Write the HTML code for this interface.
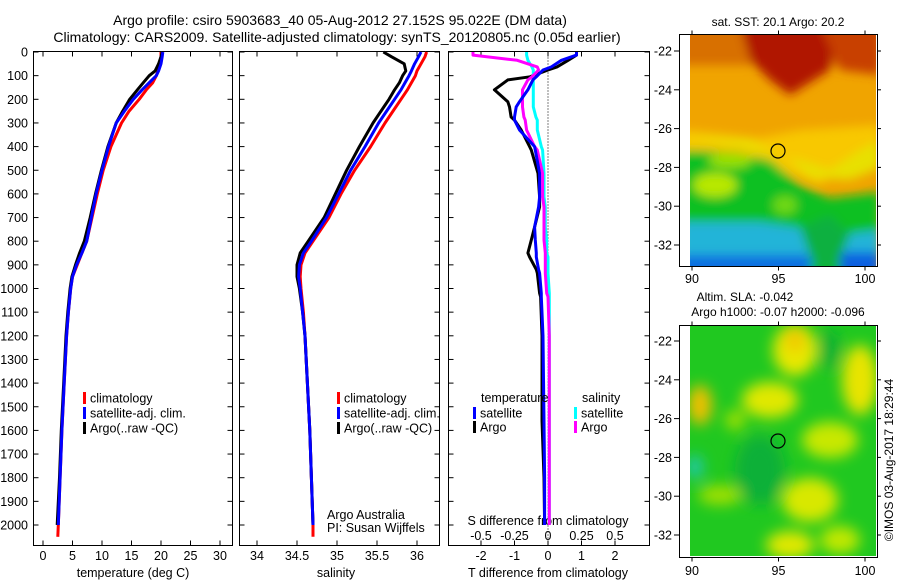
<!DOCTYPE html>
<html><head><meta charset="utf-8">
<style>
html,body{margin:0;padding:0;background:#fff;}
svg{display:block;font-family:"Liberation Sans",sans-serif;}
text{fill:#000;}
</style></head>
<body>
<svg id="fig" width="900" height="580" viewBox="0 0 900 580" xmlns="http://www.w3.org/2000/svg">
<defs>
<filter id="blur4" x="-20%" y="-20%" width="140%" height="140%"><feGaussianBlur stdDeviation="5"/></filter>
<filter id="blur6" x="-20%" y="-20%" width="140%" height="140%"><feGaussianBlur stdDeviation="7"/></filter>
<clipPath id="clipMap1"><rect x="690" y="35" width="186" height="231"/></clipPath>
<clipPath id="clipMap2"><rect x="690" y="326" width="186" height="230"/></clipPath>
</defs>
<text x="340" y="25" font-size="14" text-anchor="middle">Argo profile: csiro 5903683_40 05-Aug-2012 27.152S 95.022E (DM data)</text>
<text x="337" y="42" font-size="14" text-anchor="middle">Climatology: CARS2009. Satellite-adjusted climatology: synTS_20120805.nc (0.05d earlier)</text>

<g id="maps">
<!-- map 1 SST -->
<g clip-path="url(#clipMap1)">
<rect x="690" y="35" width="186" height="231" fill="#f0a400"/>
<g filter="url(#blur4)">
<rect x="680" y="25" width="210" height="40" fill="#d87000"/>
<polygon points="740,25 840,25 830,70 790,95 770,80 750,60" fill="#b01800"/>
<polygon points="820,25 880,25 880,75 840,70" fill="#c84000"/>
<polygon points="680,130 760,138 800,130 880,125 880,150 840,170 820,185 780,170 740,150 680,150" fill="#f8c800"/>
<polygon points="680,135 750,140 790,160 810,178 850,180 880,168 880,140 860,150 830,170 800,160" fill="#e8e000"/>
<polygon points="680,150 730,152 770,160 800,185 830,198 880,192 880,290 680,290" fill="#10c020"/>
<ellipse cx="715" cy="185" rx="22" ry="12" fill="#b8e800"/>
<ellipse cx="730" cy="160" rx="22" ry="8" fill="#9ae000"/>
<ellipse cx="785" cy="205" rx="12" ry="9" fill="#70d818"/>
<polygon points="680,222 760,222 800,228 820,250 800,290 680,290" fill="#20b4d8"/>
<polygon points="840,235 880,230 880,290 840,290" fill="#20b4d8"/>
<rect x="680" y="255" width="130" height="30" fill="#1070e0"/>
<rect x="840" y="252" width="40" height="30" fill="#1060e0"/>
<polygon points="800,228 830,215 850,235 835,270 815,270" fill="#10b040"/>
</g>
</g>
<rect x="679.5" y="34.5" width="198" height="232" fill="none" stroke="#000"/>
<circle cx="778" cy="151" r="7" fill="none" stroke="#000" stroke-width="1.2"/>
<text x="778" y="26" font-size="12" text-anchor="middle">sat. SST: 20.1 Argo: 20.2</text>

<!-- map 2 SLA -->
<g clip-path="url(#clipMap2)">
<rect x="690" y="326" width="186" height="230" fill="#20c820"/>
<g filter="url(#blur6)">
<ellipse cx="795" cy="350" rx="22" ry="26" fill="#e8e800"/>
<ellipse cx="795" cy="340" rx="10" ry="12" fill="#f0c800"/>
<ellipse cx="770" cy="400" rx="28" ry="18" fill="#e0e800"/>
<ellipse cx="860" cy="380" rx="18" ry="35" fill="#e8e400"/>
<ellipse cx="830" cy="440" rx="28" ry="18" fill="#c8e800"/>
<ellipse cx="700" cy="405" rx="12" ry="20" fill="#f0c000"/>
<ellipse cx="735" cy="420" rx="10" ry="10" fill="#a0e000"/>
<ellipse cx="720" cy="495" rx="22" ry="10" fill="#a0e000"/>
<ellipse cx="810" cy="500" rx="28" ry="22" fill="#d8e800"/>
<ellipse cx="790" cy="545" rx="24" ry="14" fill="#e0e800"/>
<ellipse cx="840" cy="540" rx="20" ry="14" fill="#c0e800"/>
<ellipse cx="760" cy="470" rx="25" ry="35" fill="#10b038"/>
<ellipse cx="695" cy="467" rx="8" ry="12" fill="#20c8b0"/>
<ellipse cx="830" cy="350" rx="10" ry="20" fill="#10b030"/>
</g>
</g>
<rect x="679.5" y="325.5" width="198" height="232" fill="none" stroke="#000"/>
<circle cx="778" cy="441" r="7" fill="none" stroke="#000" stroke-width="1.2"/>
<text x="745" y="301" font-size="12" text-anchor="middle">Altim. SLA: -0.042</text>
<text x="778" y="316" font-size="12" text-anchor="middle">Argo h1000: -0.07 h2000: -0.096</text>
<text transform="translate(893,460) rotate(-90)" font-size="12" text-anchor="middle">©IMOS 03-Aug-2017 18:29:44</text>
</g>
</svg>
<script>
// ---------- data ----------
const depths = [0,20,50,80,100,130,160,200,250,300,400,500,600,700,800,850,900,950,1000,1100,1200,1400,1600,1800,2000,2050];
const climT = [20.0,20.0,19.8,19.5,19.2,18.6,17.5,16.3,14.6,13.3,11.5,10.2,9.2,8.3,7.4,6.6,5.8,5.0,4.7,4.3,4.0,3.6,3.2,2.9,2.6,2.5];
const satT  = [20.3,20.2,20.0,19.6,19.2,18.0,16.8,15.3,13.8,12.4,11.1,10.0,9.0,8.2,7.4,6.6,5.7,5.0,4.7,4.3,4.0,3.6,3.2,2.9,2.6,2.6];
const argoT = [20.2,20.0,19.6,19.0,18.0,17.0,16.0,14.7,13.5,12.4,11.0,9.9,8.9,8.0,7.0,6.2,5.5,4.9,4.6,4.2,3.9,3.5,3.1,2.8,2.4,2.4];
const climS = [36.12,36.1,36.05,36.0,35.98,35.93,35.88,35.8,35.7,35.6,35.42,35.22,35.05,34.9,34.7,34.6,34.55,34.54,34.55,34.58,34.6,34.63,34.66,34.68,34.7,34.7];
const satS  = [36.05,36.02,35.97,35.93,35.9,35.85,35.8,35.72,35.62,35.52,35.35,35.17,35.02,34.87,34.68,34.58,34.53,34.52,34.54,34.57,34.6,34.63,34.66,34.68,34.7,34.7];
const argoS = [35.58,35.68,35.84,35.86,35.82,35.78,35.72,35.65,35.55,35.45,35.28,35.12,34.98,34.84,34.64,34.54,34.5,34.5,34.53,34.57,34.6,34.63,34.66,34.68,34.7,34.7];
const diffDepths = [0,13,35,63,76,105,118,160,210,232,275,288,330,400,415,513,613,655,740,795,850,867,920,935,1020,1035,1200,1560,1800,2000];
const satTdiff  = [0.85,0.85,0.4,0.1,-0.15,-0.35,-0.45,-0.6,-0.85,-0.95,-1.0,-1.0,-0.85,-0.4,-0.38,-0.25,-0.25,-0.28,-0.4,-0.38,-0.35,-0.35,-0.28,-0.25,-0.2,-0.2,-0.15,-0.12,-0.1,-0.1];
const argoTdiff = [0.85,0.85,0.6,0.27,0.0,-0.54,-1.2,-1.6,-1.2,-1.15,-1.1,-1.0,-0.8,-0.55,-0.5,-0.3,-0.25,-0.25,-0.4,-0.5,-0.6,-0.55,-0.35,-0.32,-0.25,-0.22,-0.18,-0.18,-0.12,-0.1];
const satSdiff  = [-0.16,-0.16,-0.15,-0.12,-0.11,-0.11,-0.11,-0.11,-0.11,-0.11,-0.09,-0.08,-0.08,-0.05,-0.04,-0.03,-0.03,-0.02,-0.02,-0.01,-0.01,0.0,0.0,0.0,0.01,0.01,0.01,0.01,0.01,0.01];
const argoSdiff = [-0.56,-0.56,-0.23,-0.08,-0.07,-0.12,-0.15,-0.19,-0.19,-0.19,-0.18,-0.17,-0.16,-0.1,-0.08,-0.04,-0.04,-0.03,-0.03,-0.03,-0.02,-0.02,-0.02,-0.02,-0.01,0.0,0.01,0.01,0.01,0.01];
const depthTicks = [0,100,200,300,400,500,600,700,800,900,1000,1100,1200,1300,1400,1500,1600,1700,1800,1900,2000];
const tempTicks = [0,5,10,15,20,25,30];
const salTicks = [34,34.5,35,35.5,36];
const tdiffTicks = [-2,-1,0,1,2];
const sdiffTicks = [-0.5,-0.25,0,0.25,0.5];
const mapLatTicks = [-22,-24,-26,-28,-30,-32];
const mapLonTicks = [90,95,100];

// ---------- scales ----------
const NS = 'http://www.w3.org/2000/svg';
const svg = document.getElementById('fig');
const yD = d => 52 + d * 0.2365;
const xT = t => 43 + t * 5.9;
const xS = s => 257 + (s - 34) * 80;
const xTd = t => 548 + t * 33.5;
const xSd = s => 548 + s * 134;
const TOP = 51.5, BOT = 545.5;
const panels = [[33.5,232.5],[239.5,439.5],[448.5,649.5]];

function mk(tag, attrs, parent) {
  const e = document.createElementNS(NS, tag);
  for (const k in attrs) e.setAttribute(k, attrs[k]);
  (parent || svg).appendChild(e);
  return e;
}
function txt(x, y, s, size, anchor, parent) {
  const t = mk('text', {x: x, y: y, 'font-size': size, 'text-anchor': anchor || 'middle'}, parent);
  t.textContent = s;
  return t;
}

// frames
panels.forEach((p, i) => {
  const r = mk('rect', {x: p[0], y: TOP, width: p[1]-p[0], height: BOT-TOP, fill: 'none', stroke: '#000'});
  
  
  depthTicks.forEach(d => {
    mk('line', {x1: p[0], x2: p[0]+5, y1: yD(d), y2: yD(d), stroke: '#000'});
    mk('line', {x1: p[1]-5, x2: p[1], y1: yD(d), y2: yD(d), stroke: '#000'});
  });
});
depthTicks.forEach(d => {
  const t = txt(28, yD(d)+4.5, String(d), 12.5, 'end');
  
  
});
// x ticks
function xticks(vals, fx, y, labels) {
  vals.forEach(v => {
    mk('line', {x1: fx(v), x2: fx(v), y1: TOP, y2: TOP+5, stroke: '#000'});
    mk('line', {x1: fx(v), x2: fx(v), y1: BOT-5, y2: BOT, stroke: '#000'});
    if (labels) {
      const t = txt(fx(v), y, String(v), 12.5);
      
      
    }
  });
}
xticks(tempTicks, xT, 560, true);
xticks(salTicks, xS, 560, true);
xticks(tdiffTicks, xTd, 560, true);
sdiffTicks.forEach(v => {
  const t = txt(xSd(v), 540, String(v), 12.5);
  
  
});
let t;
t = txt(133, 577, 'temperature (deg C)', 12.5);


t = txt(336, 577, 'salinity', 12.5);


t = txt(548, 577, 'T difference from climatology', 12.5);


t = txt(548, 525, 'S difference from climatology', 12.5);


t = txt(327, 519, 'Argo Australia', 12.5, 'start');


t = txt(327, 532, 'PI: Susan Wijffels', 12.5, 'start');



// zero dotted line
const zl = mk('line', {x1: xTd(0), x2: xTd(0), y1: TOP, y2: BOT, stroke: '#000', 'stroke-dasharray': '1,2'});



function line(vals, dep, fx, color, name, clip) {
  const pts = vals.map((v, i) => fx(v).toFixed(1) + ',' + yD(dep[i]).toFixed(1)).join(' ');
  const pl = mk('polyline', {points: pts, fill: 'none', stroke: color, 'stroke-width': 3, 'stroke-linejoin': 'round'});
  
  
}
line(climT, depths, xT, '#ff0000', 'temperature-climatology-line');
line(argoT.slice(0,25), depths.slice(0,25), xT, '#000000', 'temperature-argo-line');
line(satT.slice(0,25), depths.slice(0,25), xT, '#0000ff', 'temperature-satellite-line');
line(climS, depths, xS, '#ff0000', 'salinity-climatology-line');
line(argoS.slice(0,25), depths.slice(0,25), xS, '#000000', 'salinity-argo-line');
line(satS.slice(0,25), depths.slice(0,25), xS, '#0000ff', 'salinity-satellite-line');
line(argoTdiff, diffDepths, xTd, '#000000', 'argo-t-diff-line');
line(satSdiff, diffDepths, xSd, '#00ffff', 'satellite-s-diff-line');
line(argoSdiff, diffDepths, xSd, '#ff00ff', 'argo-s-diff-line');
line(satTdiff, diffDepths, xTd, '#0000ff', 'satellite-t-diff-line');

// legends
function legend(x, y, color, label, name) {
  const g = mk('g', {});
  
  
  mk('rect', {x: x, y: y-6, width: 3, height: 12, fill: color}, g);
  txt(x+7, y+4.5, label, 12.5, 'start', g);
}
[0,1].forEach(i => {
  const lx = i === 0 ? 83 : 337;
  legend(lx, 398, '#ff0000', 'climatology', 'legend-climatology');
  legend(lx, 413, '#0000ff', i === 0 ? 'satellite-adj. clim.' : 'satellite-adj. clim.', 'legend-satellite-adj');
  legend(lx, 428, '#000000', 'Argo(..raw -QC)', 'legend-argo');
});
// cover panel2 legend overflow at frame
t = txt(481, 402, 'temperature', 12.5, 'start');


t = txt(582, 402, 'salinity', 12.5, 'start');


legend(473, 413, '#0000ff', 'satellite', 'legend-t-satellite');
legend(473, 427, '#000000', 'Argo', 'legend-t-argo');
legend(574, 413, '#00ffff', 'satellite', 'legend-s-satellite');
legend(574, 427, '#ff00ff', 'Argo', 'legend-s-argo');

// map axes
const latY1 = v => 51 + (-22 - v) * 19.4;
const latY2 = v => 341 + (-22 - v) * 19.4;
const lonX = v => 692 + (v - 90) * 17.3;
mapLatTicks.forEach(v => {
  [latY1, latY2].forEach((f, k) => {
    mk('line', {x1: 674, x2: 679, y1: f(v), y2: f(v), stroke: '#000'});
    mk('line', {x1: 877, x2: 881, y1: f(v), y2: f(v), stroke: '#000'});
    const tt = txt(672, f(v)+4.5, String(v), 12.5, 'end');
    
    
  });
});
mapLonTicks.forEach(v => {
  [[34.5,266.5,283],[325.5,557.5,575]].forEach(b => {
    mk('line', {x1: lonX(v), x2: lonX(v), y1: b[0]-4, y2: b[0], stroke: '#000'});
    mk('line', {x1: lonX(v), x2: lonX(v), y1: b[1], y2: b[1]+4, stroke: '#000'});
    const tt = txt(lonX(v), b[2], String(v), 12.5);
    
    
  });
});
</script>
</body></html>
